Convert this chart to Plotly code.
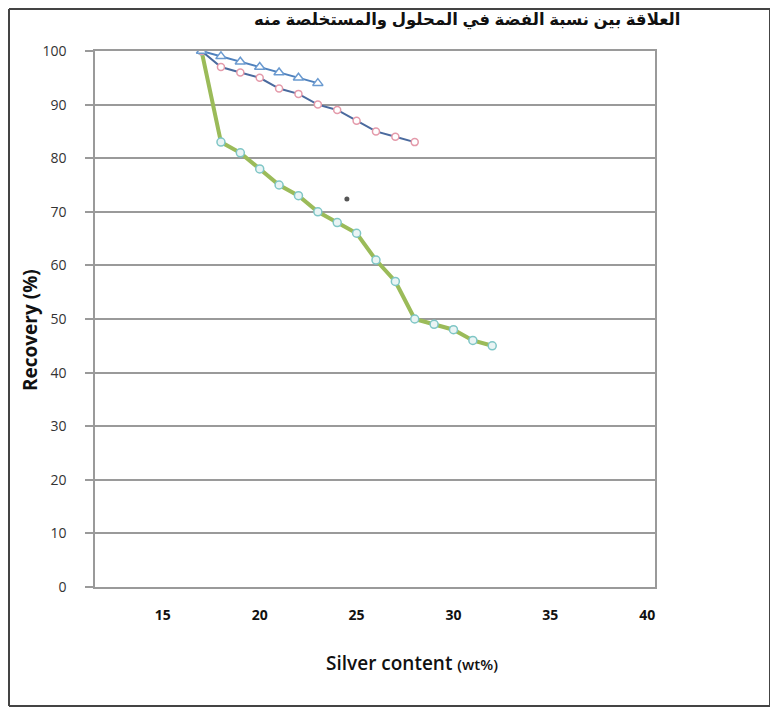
import plotly.graph_objects as go

# ---- data ----
green_x = [17, 18, 19, 20, 21, 22, 23, 24, 25, 26, 27, 28, 29, 30, 31, 32]
green_y = [100, 83, 81, 78, 75, 73, 70, 68, 66, 61, 57, 50, 49, 48, 46, 45]

pink_x = [17, 18, 19, 20, 21, 22, 23, 24, 25, 26, 27, 28]
pink_y = [100, 97, 96, 95, 93, 92, 90, 89, 87, 85, 84, 83]

tri_x = [17, 18, 19, 20, 21, 22, 23]
tri_y = [100, 99, 98, 97, 96, 95, 94]

stray_x = [24.5]
stray_y = [72.4]

x_ticks = [15, 20, 25, 30, 35, 40]
y_ticks = [0, 10, 20, 30, 40, 50, 60, 70, 80, 90, 100]

title_text = "العلاقة بين نسبة الفضة في المحلول والمستخلصة منه"
x_title = "Silver content <span style='font-size:15px'>(wt%)</span>"
y_title = "Recovery (%)"

fig = go.Figure()

fig.add_trace(go.Scatter(
    x=green_x, y=green_y, mode="lines+markers",
    line=dict(color="#9BBB59", width=4),
    marker=dict(symbol="circle", size=8, color="#EAF4F4",
                line=dict(color="#7FC6C6", width=1.5)),
    showlegend=False))

fig.add_trace(go.Scatter(
    x=pink_x, y=pink_y, mode="lines+markers",
    line=dict(color="#4A6A9E", width=2),
    marker=dict(symbol="circle", size=7, color="white",
                line=dict(color="#E49AAA", width=1.5)),
    showlegend=False))

fig.add_trace(go.Scatter(
    x=tri_x, y=tri_y, mode="lines+markers",
    line=dict(color="#4F81BD", width=2),
    marker=dict(symbol="triangle-up", size=9, color="white",
                line=dict(color="#6A9AD0", width=1.5)),
    showlegend=False))

fig.add_trace(go.Scatter(
    x=stray_x, y=stray_y, mode="markers",
    marker=dict(symbol="circle", size=5, color="#555555"),
    showlegend=False))

# page body has an 8px margin; work in page pixel coordinates
OFF = 8
W, H = 778 - OFF, 715 - OFF
L, R, T, B = 95 - OFF, 655 - OFF, 51 - OFF, 587 - OFF
pw, ph = R - L, B - T

def px2x(p):
    return (p - OFF - L) / pw

def px2y(p):
    return (B - (p - OFF)) / ph

bl, br, bt, bb = px2x(9), px2x(770), px2y(9), px2y(706)
border = dict(color="#444444", width=2)

fig.update_layout(
    width=W, height=H,
    margin=dict(l=L, r=W - R, t=T, b=H - B),
    paper_bgcolor="white", plot_bgcolor="white",
    font=dict(family="Open Sans, Liberation Sans, sans-serif", color="#222"),
    xaxis=dict(
        range=[11.5, 40.4], tickvals=x_ticks, ticktext=[str(v) for v in x_ticks],
        showgrid=False, zeroline=False,
        showline=True, linecolor="#9a9a9a", linewidth=1.5, mirror=True,
        ticks="", ticklabelstandoff=14,
        tickfont=dict(family="Open Sans, sans-serif", size=14, color="#111",
                      weight="bold"),
    ),
    yaxis=dict(
        range=[0, 100], tickvals=y_ticks,
        showgrid=True, gridcolor="#9a9a9a", gridwidth=1.5, zeroline=False,
        showline=True, linecolor="#9a9a9a", linewidth=1.5, mirror=True,
        ticks="outside", ticklen=8, tickcolor="#9a9a9a", tickwidth=1.5,
        ticklabelstandoff=16,
        tickfont=dict(family="Open Sans, sans-serif", size=14, color="#333"),
    ),
    annotations=[
        dict(text=title_text, xref="paper", yref="paper",
             x=px2x(467), y=px2y(20), xanchor="center", yanchor="middle",
             showarrow=False,
             font=dict(family="Liberation Sans, DejaVu Sans, sans-serif",
                       size=16.5, color="#111", weight="bold")),
        dict(text=x_title, xref="paper", yref="paper",
             x=px2x(412), y=px2y(663), xanchor="center", yanchor="middle",
             showarrow=False,
             font=dict(family="Open Sans, sans-serif", size=19, color="#111",
                       weight=600)),
        dict(text=y_title, xref="paper", yref="paper",
             x=px2x(30), y=px2y(330), xanchor="center", yanchor="middle",
             textangle=-90, showarrow=False,
             font=dict(family="Open Sans, sans-serif", size=19, color="#111",
                       weight="bold")),
    ],
    shapes=[
        dict(type="line", xref="paper", yref="paper", x0=bl, x1=bl, y0=bb, y1=bt, line=border),
        dict(type="line", xref="paper", yref="paper", x0=br, x1=br, y0=bb, y1=bt, line=border),
        dict(type="line", xref="paper", yref="paper", x0=bl, x1=br, y0=bt, y1=bt, line=border),
        dict(type="line", xref="paper", yref="paper", x0=bl, x1=br, y0=bb, y1=bb, line=border),
    ],
)

fig.write_html("out.html", config={"displayModeBar": False})
